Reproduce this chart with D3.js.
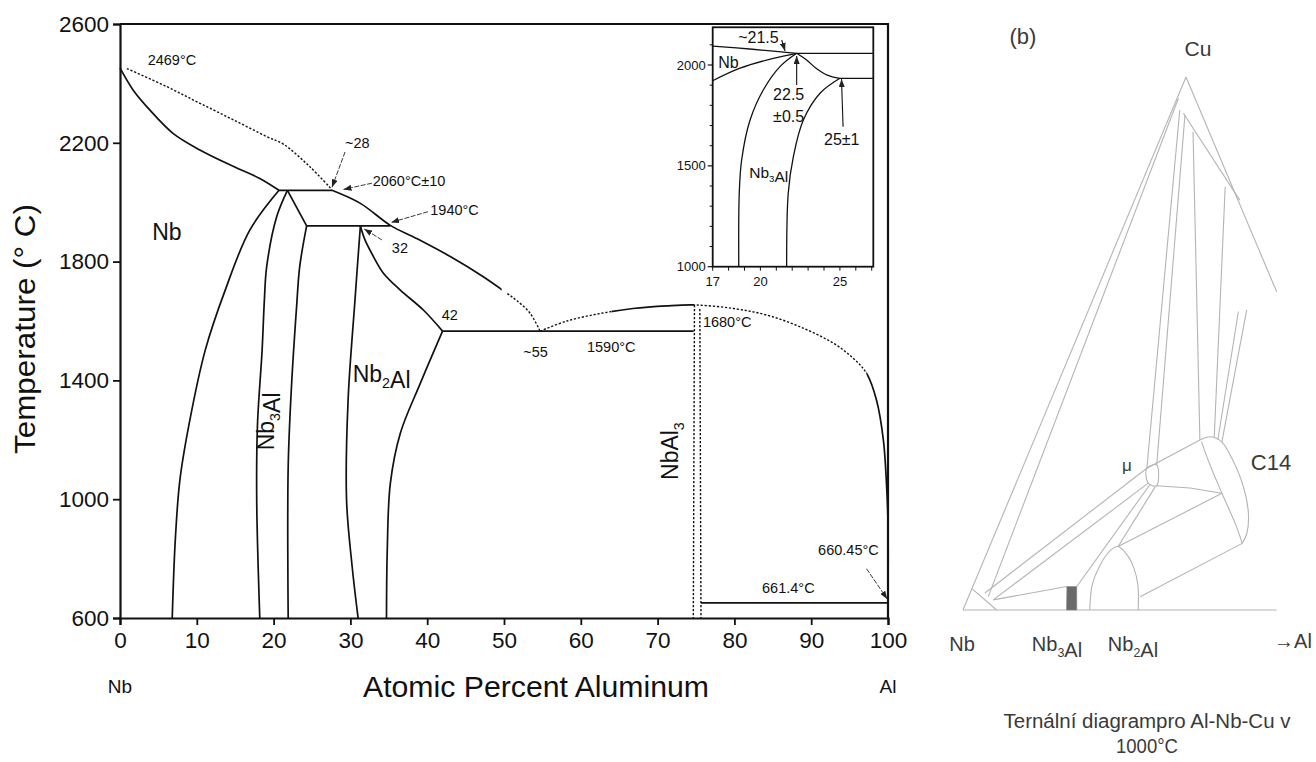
<!DOCTYPE html>
<html>
<head>
<meta charset="utf-8">
<script src="https://cdn.jsdelivr.net/npm/d3@7"></script>
<style>
  body { margin: 0; background: #fff; }
  svg { display: block; }
  text { font-family: "Liberation Sans", Arial, sans-serif; fill: #111; }
  .tern text { font-family: "Liberation Sans Narrow", "Liberation Sans", Arial, sans-serif; fill: #3a3a3a; }
</style>
</head>
<body>
<svg id="chart" width="1316" height="762"></svg>
<script>
// Nb-Al phase diagram (a) with inset, plus partial Al-Nb-Cu isotherm (b)

// -- main diagram data, [at.% Al, °C] --
const xTicks = [0, 10, 20, 30, 40, 50, 60, 70, 80, 90, 100];
const yTicks = [600, 1000, 1400, 1800, 2200, 2600];

const nbSolidus = [[0, 2452], [1.7, 2378], [3.9, 2310], [6.9, 2232], [10.4, 2176], [14.8, 2120], [18.2, 2080], [20.7, 2040]];
const liquidusNbSide = [[0.9, 2450], [6.1, 2389], [10.4, 2333], [14.8, 2277], [19.1, 2221], [21.3, 2195], [24.7, 2120], [27.6, 2042]];
const peritectic2060 = [[20.7, 2040], [27.6, 2040]];
// liquidus from ~28 to the ~55 eutectic; solid part, then a gap, then dashed
const liquidusMid = [[27.6, 2040], [31.3, 1996], [35.2, 1922], [38.6, 1878], [43.0, 1817], [47.3, 1749], [50.4, 1693], [51.7, 1668], [53.4, 1626], [54.7, 1566]];
const liquidusMidSolid = [27.6, 49.7];
const liquidusMidDash = [50.4, 54.7];
// liquidus from the eutectic over NbAl3 down to Al
const liquidusAlSide = [[54.7, 1566], [58.2, 1600], [62.5, 1625], [66.8, 1642], [71.2, 1651], [74.8, 1654], [79.9, 1642], [84.2, 1620], [88.5, 1581], [92.9, 1525], [95.5, 1474], [97.2, 1424], [98.5, 1334], [99.4, 1199], [99.8, 1053], [100, 919], [100, 660]];
const liquidusAlSolid = [[64.0, 74.8], [97.2, 100.5]];
const liquidusAlDash = [[54.7, 64.0], [74.8, 97.2]];

const nbSolvus = [[20.7, 2040], [16.9, 1906], [13.7, 1704], [11.1, 1502], [9.1, 1267], [7.8, 1065], [7.2, 863], [6.8, 600]];
const nb3AlLeft = [[21.8, 2040], [20.4, 1951], [19.1, 1783], [18.8, 1671], [18.5, 1500], [17.9, 1250], [17.8, 1000], [18.2, 600]];
const nb3AlCap = [[21.8, 2040], [24.3, 1920]];
const nb3AlRight = [[24.3, 1920], [23.4, 1783], [23.0, 1650], [22.35, 1390], [21.9, 1109], [21.9, 600]];
const line1940 = [[24.3, 1920], [35.2, 1920]];
const nb2AlLeft = [[31.3, 1920], [30.9, 1780], [30.6, 1671], [29.7, 1334], [29.5, 997], [30.2, 780], [31.0, 600]];
const nb2AlUpper = [[31.3, 1920], [31.9, 1873], [33.0, 1817], [34.3, 1761], [36.5, 1704], [39.5, 1637], [42.0, 1566]];
const nb2AlLower = [[42.0, 1566], [39.1, 1390], [36.5, 1222], [35.2, 1053], [34.8, 829], [34.7, 600]];
const eutectic1590 = [[42.0, 1566], [74.7, 1566]];
const nbAl3Left = [[74.8, 1654], [74.65, 600]];
const nbAl3Right = [[75.5, 1640], [75.65, 600]];
const eutectic661 = [[75.65, 651], [100, 651]];

// arrows [from, to]
const mainArrows = [
  [[29.3, 2169], [27.6, 2050]],
  [[32.8, 2064], [29.1, 2043]],
  [[40.1, 1968], [35.3, 1932]],
  [[34.1, 1873], [31.8, 1910]],
  [[97.2, 766], [99.9, 664]]
];
const mainNotes = [
  ["2469°C", 3.6, 2462], ["~28", 29.3, 2182], ["2060°C±10", 32.9, 2055],
  ["1940°C", 40.4, 1957], ["32", 35.4, 1829], ["42", 41.9, 1603],
  ["~55", 52.5, 1479], ["1590°C", 60.8, 1496], ["1680°C", 75.9, 1580],
  ["660.45°C", 90.9, 812], ["661.4°C", 83.6, 684]
];

// -- inset data, [at.% Al, °C] --
const insetYMajor = [1000, 1500, 2000];
const insetYMinor = [1100, 1200, 1300, 1400, 1600, 1700, 1800, 1900, 2100];
const insetXTicks = [17, 18, 19, 20, 21, 22, 23, 24, 25, 26, 27];
const insetXLabels = [17, 20, 25];

const inLiquidus = [[17, 2094], [19.5, 2078], [22.28, 2058]];
const inPeritectic = [[22.28, 2058], [27.1, 2058]];
const inLine1940 = [[25.0, 1934], [27.1, 1934]];
const inNbSolvus = [[17, 1922], [18.72, 1984], [20.81, 2033], [22.28, 2058]];
const inNb3AlLeft = [[22.28, 2058], [21.23, 1992], [20.18, 1876], [19.35, 1727], [18.82, 1529], [18.67, 1364], [18.64, 1000]];
const inNb3AlCap = [[22.28, 2058], [22.9, 2025], [23.5, 1984], [24.2, 1950], [25.0, 1934]];
const inNb3AlRight = [[25.0, 1934], [23.75, 1860], [22.7, 1727], [22.07, 1545], [21.75, 1364], [21.65, 1000]];
const insetArrows = [
  [[21.34, 2124], [21.55, 2070]],
  [[22.28, 1901], [22.28, 2045]],
  [[25.2, 1694], [25.1, 1930]]
];
const insetNotes = [
  ["~21.5", 18.6, 2107], ["22.5", 20.8, 1826], ["±0.5", 20.8, 1717],
  ["25±1", 24.0, 1603], ["Nb", 17.35, 1983]
];

// -- ternary (b) data, [at.% Al, at.% Cu] --
const ternLeftEdge = [[0, 0], [0, 100]];
const ternBase = [[0, 0], [70, 0]];
const ternRightEdge = [[0, 100], [40.3, 59.7]];
const ternLines = [
  [[0.3, 96.0], [4.4, 2.5]],
  [[0, 4.0], [7.5, 0]],
  [[3.3, 3.2], [27.8, 26.6]],
  [[5.8, 1.9], [29.5, 23.8]],
  [[5.8, 1.9], [21.0, 4.4]],
  [[23.2, 4.4], [30.0, 23.5]],
  [[28.7, 11.9], [31.4, 23.1]],
  [[28.7, 11.9], [46.9, 21.9]],
  [[38.3, 2.5], [56.1, 12.5]],
  [[27.8, 26.6], [37.0, 31.9]],
  [[31.6, 23.3], [39.3, 22.9], [46.9, 21.9]],
  [[1.7, 93.8], [27.8, 26.6]],
  [[3.3, 92.9], [29.7, 27.2]],
  [[6.7, 89.7], [37.0, 31.9]],
  [[19.0, 79.4], [40.0, 32.3]],
  [[33.6, 56.0], [41.0, 31.9]],
  [[35.3, 56.3], [42.1, 31.5]],
  [[2.8, 93.2], [23.5, 76.9]]
];
const ternMu = [[27.8, 26.6], [29.7, 27.2], [31.6, 23.3], [29.5, 23.8]];
const ternC14Outer = [[37.0, 31.9], [39.2, 32.5], [42.1, 31.5], [45.8, 28.5], [51.1, 23.1], [54.7, 18.1], [56.2, 14.4], [56.1, 12.5]];
const ternC14Inner = [[37.5, 31.6], [41.6, 27.2], [46.9, 21.9], [53.3, 15.6], [56.1, 12.5]];
const ternNb2Al = [[28.3, 0], [26.5, 4.7], [26.4, 8.4], [27.3, 11.1], [28.7, 11.9], [31.8, 10.1], [34.2, 7.9], [36.7, 4.7], [39.1, 0]];
const ternNb3Al = [[21.0, 4.4], [23.2, 4.4], [25.4, 0], [23.1, 0]];

const svg = d3.select("#chart");
const defs = svg.append("defs");

// arrowhead
defs.append("marker")
  .attr("id", "arr").attr("markerUnits", "userSpaceOnUse")
  .attr("markerWidth", 8).attr("markerHeight", 6)
  .attr("refX", 8).attr("refY", 3).attr("orient", "auto")
  .append("path").attr("d", "M0,0 L8,3 L0,6 Z").attr("fill", "#222");

// ---------- main plot ----------
const x = d3.scaleLinear().domain([0, 100]).range([120, 888]);
const y = d3.scaleLinear().domain([600, 2600]).range([618, 24]);

const main = svg.append("g");
const curve = d3.line().x(d => x(d[0])).y(d => y(d[1])).curve(d3.curveCatmullRom.alpha(0.5));

let clipN = 0;
function drawCurve(g, gen, data, dotted, xr) {
  const p = g.append("path").attr("d", gen(data))
    .attr("fill", "none").attr("stroke", "#111")
    .attr("stroke-width", dotted ? 1.4 : 1.7)
    .attr("stroke-dasharray", dotted ? "2.2 1.8" : null);
  if (xr) {
    // show only the part of the curve between two compositions
    const id = "clip" + (clipN++);
    defs.append("clipPath").attr("id", id).append("rect")
      .attr("x", x(xr[0])).attr("y", 0)
      .attr("width", x(xr[1]) - x(xr[0])).attr("height", 762);
    p.attr("clip-path", `url(#${id})`);
  }
}

[nbSolidus, peritectic2060, nbSolvus, nb3AlLeft, nb3AlCap, nb3AlRight,
 line1940, nb2AlLeft, nb2AlUpper, nb2AlLower, eutectic1590, eutectic661]
  .forEach(d => drawCurve(main, curve, d, false));
[liquidusNbSide, nbAl3Left, nbAl3Right].forEach(d => drawCurve(main, curve, d, true));
drawCurve(main, curve, liquidusMid, false, liquidusMidSolid);
drawCurve(main, curve, liquidusMid, true, liquidusMidDash);
liquidusAlSolid.forEach(r => drawCurve(main, curve, liquidusAlSide, false, r));
liquidusAlDash.forEach(r => drawCurve(main, curve, liquidusAlSide, true, r));

// axes + frame
const xAxis = main.append("g").attr("transform", `translate(0,${y(600)})`)
  .call(d3.axisBottom(x).tickValues(xTicks).tickFormat(d3.format("d")).tickSize(7).tickPadding(7));
const yAxis = main.append("g").attr("transform", `translate(${x(0)},0)`)
  .call(d3.axisLeft(y).tickValues(yTicks).tickFormat(d3.format("d")).tickSize(7).tickPadding(4));
[xAxis, yAxis].forEach(a => {
  a.select(".domain").attr("stroke", "#111").attr("stroke-width", 2.2);
  a.selectAll(".tick line").attr("stroke", "#111").attr("stroke-width", 1.8);
  a.selectAll(".tick text").attr("font-size", 22.5).attr("fill", "#111")
    .attr("font-family", "'Liberation Sans', Arial, sans-serif");
});
main.append("path")
  .attr("d", `M${x(0)},${y(2600)} H${x(100)} V${y(600)}`)
  .attr("fill", "none").attr("stroke", "#111").attr("stroke-width", 2.2);

main.append("text").attr("transform", `translate(35,${(y(600) + y(2600)) / 2 + 8}) rotate(-90)`)
  .attr("text-anchor", "middle").attr("font-size", 30)
  .attr("textLength", 250).attr("lengthAdjust", "spacingAndGlyphs")
  .text("Temperature (° C)");
main.append("text").attr("x", 536).attr("y", 697).attr("text-anchor", "middle")
  .attr("font-size", 30).attr("textLength", 346).attr("lengthAdjust", "spacingAndGlyphs")
  .text("Atomic Percent Aluminum");
main.append("text").attr("x", x(0)).attr("y", 693).attr("text-anchor", "middle")
  .attr("font-size", 19).text("Nb");
main.append("text").attr("x", x(100)).attr("y", 693).attr("text-anchor", "middle")
  .attr("font-size", 19).text("Al");

// annotations
mainNotes.forEach(n => {
  main.append("text").attr("x", x(n[1])).attr("y", y(n[2]))
    .attr("font-size", 14.5).text(n[0]);
});
mainArrows.forEach(a => {
  main.append("line")
    .attr("x1", x(a[0][0])).attr("y1", y(a[0][1]))
    .attr("x2", x(a[1][0])).attr("y2", y(a[1][1]))
    .attr("stroke", "#222").attr("stroke-width", 0.9)
    .attr("stroke-dasharray", "5 1.5")
    .attr("marker-end", "url(#arr)");
});

// phase labels with subscripts
function chem(g, parts, size) {
  const t = g.append("text").attr("font-size", size);
  parts.forEach(p => {
    if (p.sub) {
      t.append("tspan").attr("font-size", size * 0.62).attr("dy", size * 0.28).text(p.s);
      t.append("tspan").attr("dy", -size * 0.28).text("");
    } else {
      t.append("tspan").text(p.s);
    }
  });
  return t;
}
main.append("text").attr("x", x(4.2)).attr("y", y(1873)).attr("font-size", 23).text("Nb");
chem(main, [{ s: "Nb" }, { s: "2", sub: true }, { s: "Al" }], 23)
  .attr("x", x(30.3)).attr("y", y(1395));
chem(main, [{ s: "Nb" }, { s: "3", sub: true }, { s: "Al" }], 23)
  .attr("text-anchor", "middle")
  .attr("transform", `translate(${x(20.0)},${y(1262)}) rotate(-90)`);
chem(main, [{ s: "NbAl" }, { s: "3", sub: true }], 23)
  .attr("text-anchor", "middle")
  .attr("transform", `translate(${x(72.6)},${y(1162)}) rotate(-90)`);

// ---------- inset ----------
const ix = d3.scaleLinear().domain([17, 27.1]).range([712.7, 873.3]);
const iy = d3.scaleLinear().domain([1000, 2000]).range([266.7, 65]);
const inset = svg.append("g");
const iTop = iy(2187);
inset.append("rect").attr("x", ix(17)).attr("y", iTop)
  .attr("width", ix(27.1) - ix(17)).attr("height", iy(1000) - iTop)
  .attr("fill", "#fff").attr("stroke", "#111").attr("stroke-width", 1.8);

const icurve = d3.line().x(d => ix(d[0])).y(d => iy(d[1])).curve(d3.curveCatmullRom.alpha(0.5));
[inLiquidus, inPeritectic, inLine1940, inNbSolvus, inNb3AlLeft, inNb3AlCap, inNb3AlRight]
  .forEach(d => {
    inset.append("path").attr("d", icurve(d)).attr("fill", "none")
      .attr("stroke", "#111").attr("stroke-width", 1.3);
  });

insetYMajor.forEach(v => {
  inset.append("line").attr("x1", ix(17) - 5).attr("x2", ix(17))
    .attr("y1", iy(v)).attr("y2", iy(v)).attr("stroke", "#111").attr("stroke-width", 1.2);
  inset.append("text").attr("x", ix(17) - 7).attr("y", iy(v) + 4.5)
    .attr("text-anchor", "end").attr("font-size", 13).text(v);
});
insetYMinor.forEach(v => {
  inset.append("line").attr("x1", ix(17) - 3).attr("x2", ix(17))
    .attr("y1", iy(v)).attr("y2", iy(v)).attr("stroke", "#111").attr("stroke-width", 1);
});
insetXTicks.forEach(v => {
  inset.append("line").attr("x1", ix(v)).attr("x2", ix(v))
    .attr("y1", iy(1000)).attr("y2", iy(1000) + 4).attr("stroke", "#111").attr("stroke-width", 1);
});
insetXLabels.forEach(v => {
  inset.append("text").attr("x", ix(v)).attr("y", iy(1000) + 19)
    .attr("text-anchor", "middle").attr("font-size", 13).text(v);
});
insetArrows.forEach(a => {
  inset.append("line")
    .attr("x1", ix(a[0][0])).attr("y1", iy(a[0][1]))
    .attr("x2", ix(a[1][0])).attr("y2", iy(a[1][1]))
    .attr("stroke", "#111").attr("stroke-width", 1.1)
    .attr("marker-end", "url(#arr)");
});
insetNotes.forEach(n => {
  inset.append("text").attr("x", ix(n[1])).attr("y", iy(n[2]))
    .attr("font-size", 16).text(n[0]);
});
chem(inset, [{ s: "Nb" }, { s: "3", sub: true }, { s: "Al" }], 15.5)
  .attr("x", ix(19.3)).attr("y", iy(1440));

// ---------- ternary (b) ----------
const tAl = d3.scaleLinear().domain([0, 100]).range([0, 448]);
const tSkew = d3.scaleLinear().domain([0, 100]).range([0, 223]);
const tCu = d3.scaleLinear().domain([0, 100]).range([610, 77]);
const tx = d => 963 + tAl(d[0]) + tSkew(d[1]);
const tern = svg.append("g").attr("class", "tern");
const tline = d3.line().x(tx).y(d => tCu(d[1]));
const tcurve = d3.line().x(tx).y(d => tCu(d[1])).curve(d3.curveCatmullRom.alpha(0.5));

[ternLeftEdge, ternBase, ternRightEdge].concat(ternLines).forEach(d => {
  tern.append("path").attr("d", tline(d)).attr("fill", "none")
    .attr("stroke", "#b4b4b4").attr("stroke-width", 1.1);
});
[ternC14Outer, ternC14Inner, ternNb2Al].forEach(d => {
  tern.append("path").attr("d", tcurve(d)).attr("fill", "none")
    .attr("stroke", "#b4b4b4").attr("stroke-width", 1.1);
});
tern.append("path").attr("d", d3.line().x(tx).y(d => tCu(d[1])).curve(d3.curveCatmullRomClosed)(ternMu))
  .attr("fill", "none").attr("stroke", "#b4b4b4").attr("stroke-width", 1.1);
tern.append("path").attr("d", tline(ternNb3Al) + "Z")
  .attr("fill", "#6a6a6a").attr("stroke", "#888").attr("stroke-width", 0.6);

tern.append("text").attr("x", 1023).attr("y", 44).attr("text-anchor", "middle").attr("font-size", 22).text("(b)");
tern.append("text").attr("x", 1198).attr("y", 56).attr("text-anchor", "middle").attr("font-size", 21).text("Cu");
tern.append("text").attr("x", 1127).attr("y", 471).attr("text-anchor", "middle").attr("font-size", 17).text("μ");
tern.append("text").attr("x", 1271).attr("y", 470).attr("text-anchor", "middle").attr("font-size", 22).text("C14");
tern.append("text").attr("x", 962).attr("y", 651).attr("text-anchor", "middle").attr("font-size", 20).text("Nb");
chem(tern, [{ s: "Nb" }, { s: "3", sub: true }, { s: "Al" }], 20)
  .attr("x", 1057).attr("y", 651).attr("text-anchor", "middle");
chem(tern, [{ s: "Nb" }, { s: "2", sub: true }, { s: "Al" }], 20)
  .attr("x", 1133).attr("y", 651).attr("text-anchor", "middle");
tern.append("text").attr("x", 1293).attr("y", 648).attr("text-anchor", "middle").attr("font-size", 20).text("→Al");
tern.append("text").attr("x", 1147).attr("y", 728).attr("text-anchor", "middle").attr("font-size", 20)
  .attr("textLength", 287).attr("lengthAdjust", "spacingAndGlyphs")
  .text("Ternální diagrampro Al-Nb-Cu v");
tern.append("text").attr("x", 1147).attr("y", 753).attr("text-anchor", "middle").attr("font-size", 20)
  .attr("textLength", 62).attr("lengthAdjust", "spacingAndGlyphs")
  .text("1000°C");
</script>
</body>
</html>
